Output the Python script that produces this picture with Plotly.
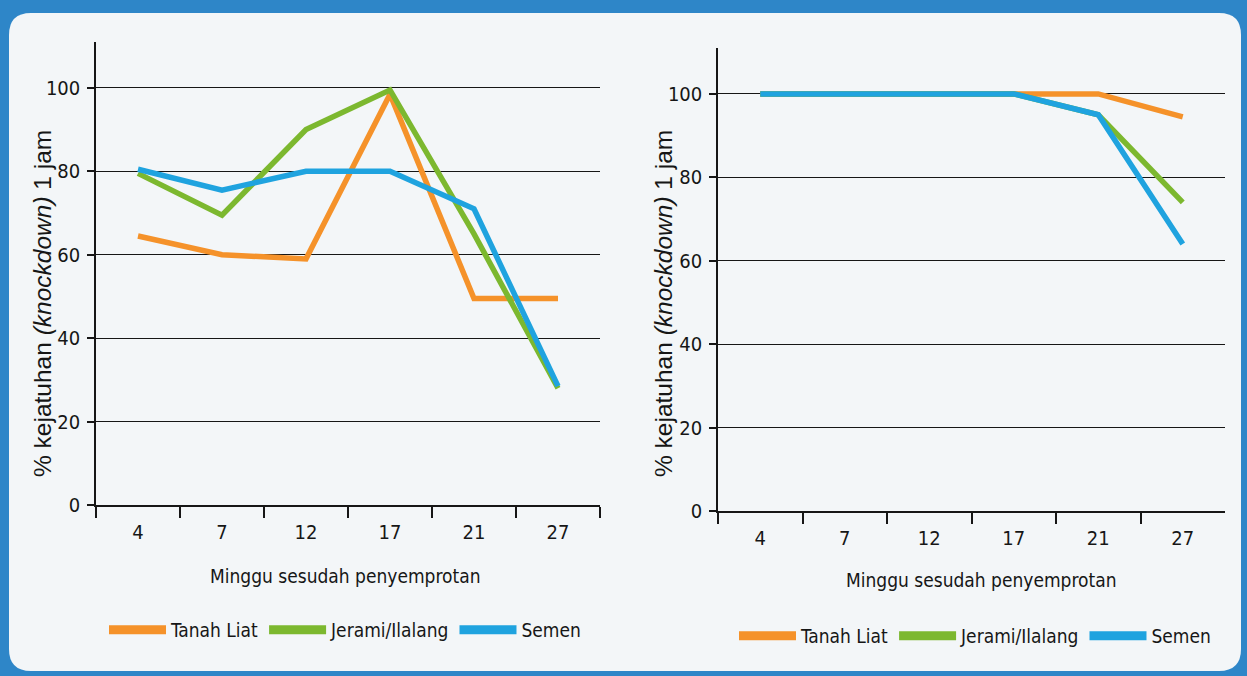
import plotly.graph_objects as go

weeks = ["4", "7", "12", "17", "21", "27"]
series_names = ["Tanah Liat", "Jerami/Ilalang", "Semen"]
colors = ["#F5922A", "#7CB82F", "#1FA3DF"]

# Left chart
left_tanah = [64.5, 60, 59, 98.5, 49.5, 49.5]
left_jerami = [79.5, 69.5, 90, 99.5, 65, 28]
left_semen = [80.5, 75.5, 80, 80, 71, 28.5]

# Right chart
right_tanah = [100, 100, 100, 100, 100, 94.5]
right_jerami = [100, 100, 100, 100, 95, 74]
right_semen = [100, 100, 100, 100, 95, 64]

y_title = "% kejatuhan <i>(knockdown)</i> 1 jam"
x_title = "Minggu sesudah penyemprotan"
y_ticks = [0, 20, 40, 60, 80, 100]

W, H = 1247, 676
COND = "DejaVu Sans Condensed, Liberation Sans Narrow, Arial Narrow, sans-serif"
REG = "Liberation Sans, Arial, sans-serif"
INK = "#161616"

fig = go.Figure()

left = [left_tanah, left_jerami, left_semen]
right = [right_tanah, right_jerami, right_semen]

for i, name in enumerate(series_names):
    fig.add_trace(go.Scatter(x=weeks, y=left[i], mode="lines", name=name,
                             line=dict(color=colors[i], width=5.5),
                             xaxis="x", yaxis="y", showlegend=False))
for i, name in enumerate(series_names):
    fig.add_trace(go.Scatter(x=weeks, y=right[i], mode="lines", name=name,
                             line=dict(color=colors[i], width=5.5),
                             xaxis="x2", yaxis="y2", showlegend=False))
# legend entries
for i, name in enumerate(series_names):
    fig.add_trace(go.Scatter(x=[None], y=[None], mode="lines", name=name,
                             line=dict(color=colors[i], width=9),
                             xaxis="x", yaxis="y", legend="legend"))
for i, name in enumerate(series_names):
    fig.add_trace(go.Scatter(x=[None], y=[None], mode="lines", name=name,
                             line=dict(color=colors[i], width=9),
                             xaxis="x2", yaxis="y2", legend="legend2"))


def px_x(p):
    return p / W


def px_y(p):
    return 1 - p / H


xaxis_common = dict(type="category", tickson="boundaries", ticks="outside",
                    ticklen=11, tickwidth=1.5, tickcolor=INK, showline=True,
                    linecolor=INK, linewidth=1.5, showgrid=False, zeroline=False,
                    tickfont=dict(family=COND, size=20, color=INK),
                    ticklabelstandoff=8, range=[-0.5, 5.5], fixedrange=True,
                    automargin=False)
yaxis_common = dict(range=[0, 111], tickvals=y_ticks, ticks="outside", ticklen=7,
                    tickwidth=1.5, tickcolor=INK, showline=True, linecolor=INK,
                    linewidth=1.5, showgrid=True, gridcolor=INK, gridwidth=1.3,
                    zeroline=False, tickfont=dict(family=COND, size=20, color=INK),
                    ticklabelstandoff=3, fixedrange=True, automargin=False)

fig.update_layout(
    width=W, height=H,
    margin=dict(l=0, r=0, t=0, b=0, pad=0, autoexpand=False),
    paper_bgcolor="#2E86C8",
    plot_bgcolor="rgba(0,0,0,0)",
    xaxis=dict(domain=[px_x(96), px_x(600)], anchor="y", **xaxis_common),
    yaxis=dict(domain=[px_y(505), px_y(42)], anchor="x", **yaxis_common),
    xaxis2=dict(domain=[px_x(718), px_x(1225)], anchor="y2", **xaxis_common),
    yaxis2=dict(domain=[px_y(511), px_y(48)], anchor="x2", **yaxis_common),
    legend=dict(orientation="h", x=px_x(345), xanchor="center", y=px_y(630),
                yanchor="middle", itemwidth=57, bgcolor="rgba(0,0,0,0)",
                font=dict(family=COND, size=19, color=INK), tracegroupgap=0),
    legend2=dict(orientation="h", x=px_x(975), xanchor="center", y=px_y(636),
                 yanchor="middle", itemwidth=57, bgcolor="rgba(0,0,0,0)",
                 font=dict(family=COND, size=19, color=INK), tracegroupgap=0),
    showlegend=True,
)

# white rounded panel
x0, x1, y0, y1 = 9, 1241, 13, 671
r = 22
def P(x, y):
    return f"{x / W:.5f},{1 - y / H:.5f}"
path = (f"M {P(x0 + r, y0)} L {P(x1 - r, y0)} Q {P(x1, y0)} {P(x1, y0 + r)} "
        f"L {P(x1, y1 - r)} Q {P(x1, y1)} {P(x1 - r, y1)} L {P(x0 + r, y1)} "
        f"Q {P(x0, y1)} {P(x0, y1 - r)} L {P(x0, y0 + r)} Q {P(x0, y0)} {P(x0 + r, y0)} Z")
fig.add_shape(type="path", path=path, xref="paper", yref="paper",
              fillcolor="#F3F6F8", line=dict(width=0), layer="below")

# axis titles
ann = dict(xref="paper", yref="paper", showarrow=False, xanchor="center", yanchor="middle")
fig.add_annotation(text=y_title, x=px_x(42), y=px_y(304), textangle=-90,
                   font=dict(family=REG, size=24.5, color=INK), **ann)
fig.add_annotation(text=y_title, x=px_x(663), y=px_y(304), textangle=-90,
                   font=dict(family=REG, size=24.5, color=INK), **ann)
fig.add_annotation(text=x_title, x=px_x(345), y=px_y(576),
                   font=dict(family=COND, size=19, color=INK), **ann)
fig.add_annotation(text=x_title, x=px_x(981), y=px_y(580),
                   font=dict(family=COND, size=19, color=INK), **ann)

fig.write_html("out.html", config={"displayModeBar": False},
               post_script="document.body.style.margin='0';document.body.style.overflow='hidden';")
